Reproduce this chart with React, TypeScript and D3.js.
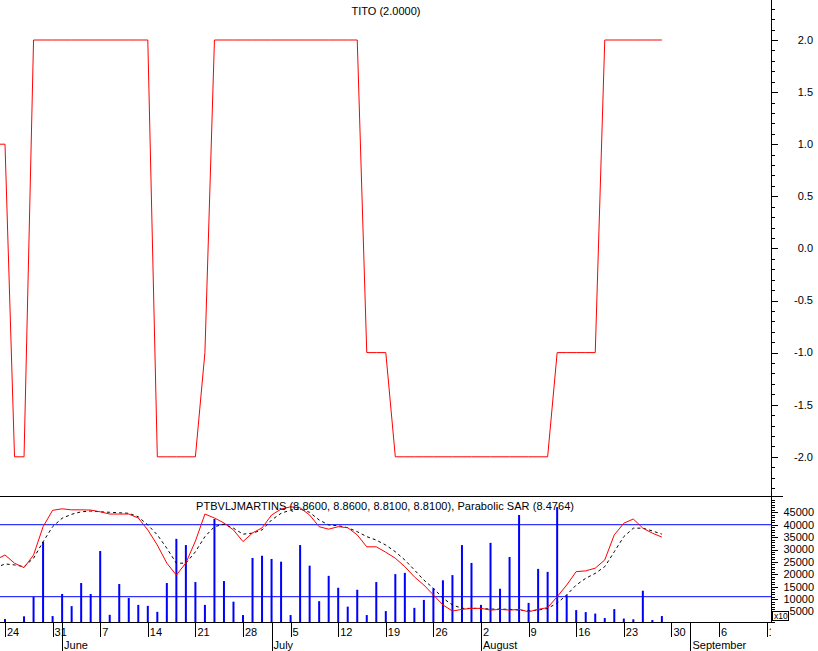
import React from "react";
import * as d3 from "d3";

// Trading-day calendar (weekdays) used by the x axis: May 21 2010 .. Sep 14 2010
const calendarStart = new Date(2010, 4, 21);
const calendarEnd = new Date(2010, 8, 15);

// TITO signal, one value per trading day starting May 21
const tito = [
  1,
  1, -2, -2, 2, 2,
  2, 2, 2, 2, 2,
  2, 2, 2, 2, 2,
  2, -2, -2, -2, -2,
  -2, -1, 2, 2, 2,
  2, 2, 2, 2, 2,
  2, 2, 2, 2, 2,
  2, 2, 2, -1, -1,
  -1, -2, -2, -2, -2,
  -2, -2, -2, -2, -2,
  -2, -2, -2, -2, -2,
  -2, -2, -2, -1, -1,
  -1, -1, -1, 2, 2,
  2, 2, 2, 2, 2,
];

// Volume bars (axis units, x10)
const volume = [
  0,
  2000, 0, 3100, 10900, 33100,
  3200, 12100, 7200, 16500, 12100,
  29400, 3700, 16100, 10500, 7700,
  7300, 4900, 16500, 34300, 31800,
  16900, 7700, 42300, 17300, 9000,
  3600, 26600, 27500, 26200, 25100,
  3600, 31800, 23500, 9200, 19400,
  14600, 7000, 13800, 3600, 16900,
  5200, 20100, 20600, 6500, 9700,
  14400, 17600, 19700, 31800, 24600,
  7700, 32700, 14200, 27000, 43900,
  8500, 22200, 21000, 47100, 11600,
  5600, 4800, 4200, 2400, 6000,
  2200, 1900, 13400, 1600, 3200,
];

// Price line (red), in panel axis units
const closeLine = [
  25800,
  27800, 24500, 22700, 27800, 39200,
  45800, 46400, 46000, 46000, 45900,
  45200, 44300, 44300, 44300, 42700,
  37900, 31800, 24500, 19700, 24600,
  33400, 44300, 42700, 40700, 37900,
  33200, 36700, 38700, 43900, 46300,
  47200, 46800, 43900, 39200, 38200,
  39200, 38800, 35900, 31100, 31100,
  28900, 26500, 23100, 19000, 15700,
  11700, 7700, 5200, 5900, 6300,
  6300, 5600, 5900, 5600, 5900,
  4900, 5900, 6600, 11000, 15700,
  21100, 21400, 22500, 25800, 35900,
  40600, 42300, 38600, 36600, 35000,
];

// Average line (black dashed), in panel axis units
const avgLine = [
  22600,
  24200, 23800, 23100, 26500, 33100,
  39200, 42600, 44200, 45200, 45500,
  45200, 45000, 44800, 44600, 43200,
  39900, 35900, 30500, 24500, 24500,
  29100, 35200, 39200, 40200, 38600,
  36200, 36600, 37900, 41900, 44600,
  45900, 46300, 45000, 41900, 39900,
  39600, 38800, 37200, 35200, 33800,
  31800, 29100, 25800, 21800, 17700,
  14400, 10400, 7700, 6300, 6300,
  6300, 6000, 6000, 5900, 5600,
  5300, 5600, 6300, 8400, 11700,
  15700, 18400, 20400, 23100, 29100,
  35200, 38600, 38600, 37500, 36200,
];

const bandLevels = [40000, 11000];
const topTicks = [2.0, 1.5, 1.0, 0.5, 0.0, -0.5, -1.0, -1.5, -2.0];
const bottomTicks = [45000, 40000, 35000, 30000, 25000, 20000, 15000, 10000, 5000];

const titleText = "TITO (2.0000)";
const legendText = "PTBVLJMARTINS (8.8600, 8.8600, 8.8100, 8.8100), Parabolic SAR (8.4764)";
const scaleNote = "x10";

const FONT = "'Liberation Sans', Arial, sans-serif";

export default function App() {
  const W = 818, H = 651;
  const plotR = 771;
  const sep = 496;
  const axisY = 622;

  const days = d3
    .timeDay.range(calendarStart, calendarEnd)
    .filter((d) => d.getDay() !== 0 && d.getDay() !== 6);

  const x = d3.scaleLinear().domain([1, 81]).range([5, 766.6]);
  const yTop = d3.scaleLinear().domain([-2, 2]).range([456.8, 40]);
  const yBot = d3.scaleLinear().domain([0, 45000]).range([624, 512.3]);

  const lineTop = d3.line<number>().x((_, i) => x(i)).y((d) => yTop(d));
  const lineBot = d3.line<number>().x((_, i) => x(i)).y((d) => yBot(d));

  const topMinor = d3.range(-24, 25).map((v) => v / 10).filter((v) => yTop(v) >= 0 && yTop(v) <= sep);
  const botMinor = d3.range(0, 51000, 1000).filter((v) => yBot(v) >= sep && yBot(v) <= axisY);

  const fmtDay = d3.timeFormat("%-d");
  const fmtMonth = d3.timeFormat("%B");
  const mondays = days.map((d, i) => ({ d, i })).filter((o) => o.d.getDay() === 1);
  const monthStarts = days
    .map((d, i) => ({ d, i }))
    .filter((o) => o.i > 0 && o.d.getMonth() !== days[o.i - 1].getMonth());

  return (
    <svg
      width={W}
      height={H}
      style={{ position: "absolute", left: 0, top: 0, background: "#fff" }}
      fontFamily={FONT}
      fontSize={11}
    >
      <defs>
        <clipPath id="clipTop">
          <rect x={0} y={0} width={plotR} height={sep} />
        </clipPath>
        <clipPath id="clipBot">
          <rect x={0} y={sep + 1} width={plotR} height={axisY - sep - 1} />
        </clipPath>
        <clipPath id="clipDates">
          <rect x={0} y={axisY} width={plotR} height={H - axisY} />
        </clipPath>
      </defs>
      <rect x={0} y={0} width={W} height={H} fill="#fff" />

      {/* Top panel */}
      <text x={386} y={15} textAnchor="middle" fill="#000">{titleText}</text>
      <g clipPath="url(#clipTop)">
        <path d={lineTop(tito) || ""} fill="none" stroke="#ff0000" strokeWidth={1} />
      </g>

      {/* Bottom panel */}
      <g clipPath="url(#clipBot)">
        {bandLevels.map((v, k) => (
          <line key={k} x1={0} x2={plotR} y1={yBot(v)} y2={yBot(v)} stroke="#0000ff" strokeWidth={1} />
        ))}
        {volume.map((v, i) =>
          v > 0 ? (
            <rect key={i} x={x(i) - 1} y={yBot(v)} width={2} height={yBot(0) - yBot(v)} fill="#0000ff" />
          ) : null
        )}
        <path d={lineBot(avgLine) || ""} fill="none" stroke="#000" strokeWidth={1} strokeDasharray="3,3" />
        <path d={lineBot(closeLine) || ""} fill="none" stroke="#ff0000" strokeWidth={1} />
      </g>
      <text x={196} y={509.5} fill="#000" textLength={378} lengthAdjust="spacing">{legendText}</text>

      {/* Separator and axes */}
      <line x1={0} x2={783} y1={sep + 0.5} y2={sep + 0.5} stroke="#000" />
      <line x1={plotR + 0.5} x2={plotR + 0.5} y1={0} y2={axisY} stroke="#000" />
      <line x1={0} x2={plotR + 1} y1={axisY + 0.5} y2={axisY + 0.5} stroke="#000" />

      {/* Top right axis */}
      {topMinor.map((v, k) => (
        <line key={k} x1={plotR} x2={plotR + 4} y1={Math.round(yTop(v)) + 0.5} y2={Math.round(yTop(v)) + 0.5} stroke="#000" />
      ))}
      {topTicks.map((v, k) => (
        <g key={k}>
          <line x1={plotR} x2={plotR + 7} y1={Math.round(yTop(v)) + 0.5} y2={Math.round(yTop(v)) + 0.5} stroke="#000" />
          <text x={813} y={yTop(v)} dy="0.35em" textAnchor="end" fill="#000">{v.toFixed(1)}</text>
        </g>
      ))}

      {/* Bottom right axis */}
      {botMinor.map((v, k) => (
        <line key={k} x1={plotR} x2={plotR + 4} y1={Math.round(yBot(v)) + 0.5} y2={Math.round(yBot(v)) + 0.5} stroke="#000" />
      ))}
      {bottomTicks.map((v, k) => (
        <g key={k}>
          <line x1={plotR} x2={plotR + 7} y1={Math.round(yBot(v)) + 0.5} y2={Math.round(yBot(v)) + 0.5} stroke="#000" />
          <text x={814} y={yBot(v)} dy="0.35em" textAnchor="end" fill="#000">{String(v)}</text>
        </g>
      ))}
      <rect x={772.5} y={611.5} width={16} height={9} fill="#fff" stroke="#000" />
      <text x={774} y={619} fontSize={8.5} fill="#000">{scaleNote}</text>

      {/* Date axis */}
      <g clipPath="url(#clipDates)">
        {mondays.map(({ d, i }) => (
          <g key={"w" + i}>
            <line x1={Math.round(x(i)) + 0.5} x2={Math.round(x(i)) + 0.5} y1={axisY} y2={637} stroke="#000" />
            <text x={x(i) + 2} y={635.5} fill="#000">{fmtDay(d)}</text>
          </g>
        ))}
        {monthStarts.map(({ d, i }) => (
          <g key={"m" + i}>
            <line x1={Math.round(x(i)) + 0.5} x2={Math.round(x(i)) + 0.5} y1={axisY} y2={H} stroke="#000" />
            <text x={x(i) + 2} y={649} fill="#000">{fmtMonth(d)}</text>
          </g>
        ))}
      </g>
    </svg>
  );
}
